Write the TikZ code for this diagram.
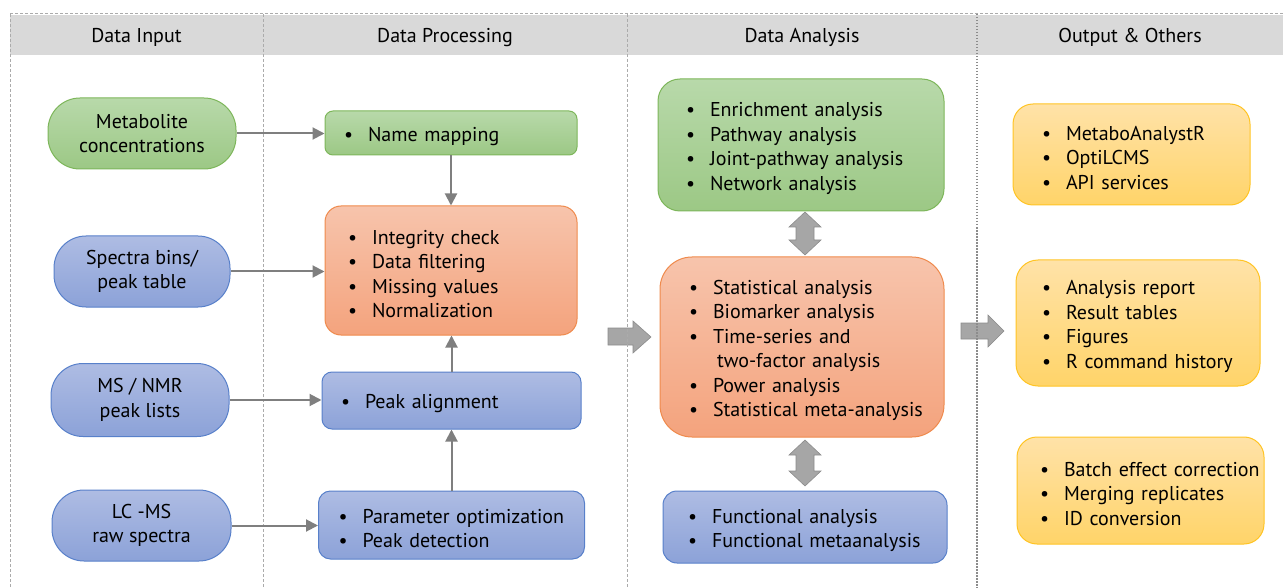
\documentclass[tikz,border=0pt]{standalone}
\usepackage{fontspec}
\setmainfont{PT Sans}
\usetikzlibrary{arrows.meta,shadings}
\definecolor{hdr}{HTML}{D9D9D9}
\definecolor{divc}{HTML}{ABABAB}
\definecolor{conn}{HTML}{7F7F7F}
\definecolor{blkf}{HTML}{A6A6A6}
\definecolor{blkd}{HTML}{8C8C8C}
\definecolor{grT}{HTML}{B8D9AA}
\definecolor{grB}{HTML}{9CC885}
\definecolor{grD}{HTML}{7DB65A}
\definecolor{orT}{HTML}{F7C4AC}
\definecolor{orB}{HTML}{F4A37D}
\definecolor{orD}{HTML}{EF8A4C}
\definecolor{blT}{HTML}{AEBCE3}
\definecolor{blB}{HTML}{8CA2D8}
\definecolor{blD}{HTML}{5880CA}
\definecolor{yeT}{HTML}{FFE2A8}
\definecolor{yeB}{HTML}{FFD469}
\definecolor{yeD}{HTML}{FFC424}
\newcommand\bitem[1]{\mbox{\makebox[24pt][l]{\textbullet}#1}}
\begin{document}
\begin{tikzpicture}[x=1pt,y=-1pt,
  txt/.style={font=\fontsize{20}{24.5}\selectfont, text=black, execute at begin node={\rule{0pt}{21pt}}},
  greenbox/.style={draw=grD, top color=grT, bottom color=grB},
  orangebox/.style={draw=orD, top color=orT, bottom color=orB},
  bluebox/.style={draw=blD, top color=blT, bottom color=blB},
  yellowbox/.style={draw=yeD, top color=yeT, bottom color=yeB},
  pill/.style={txt, rounded corners=32pt, align=center, line width=1pt, inner sep=0pt},
  listbox/.style={txt, align=left, line width=1pt, inner ysep=0pt},
  conn/.style={draw=conn, line width=2pt, -{Triangle[length=12pt,width=12pt]}},
  divline/.style={draw=divc, line width=1pt, dash pattern=on 3pt off 2pt},
  divdot/.style={draw=blkd, line width=1.2pt, dash pattern=on 1.5pt off 1.5pt},
  blockarrow/.style={fill=blkf, draw=blkd, line width=0.6pt},
  hdrtxt/.style={font=\fontsize{20}{24}\selectfont, text=black}]
\useasboundingbox (0,0) rectangle (1283,588);

% header band
\fill[hdr] (10,15) rectangle (1283,55);
\node[hdrtxt] (h1) at (136.5,37.5) {Data Input};
\node[hdrtxt] (h2) at (445,37.5) {Data Processing};
\node[hdrtxt] (h3) at (802,37.5) {Data Analysis};
\node[hdrtxt] (h4) at (1130,37.5) {Output \& Others};

% block arrows
\draw[blockarrow] (608,328) -- (633,328) -- (633,321) -- (651,337) -- (633,353) -- (633,345) -- (608,345) -- cycle;
\draw[blockarrow] (961,323) -- (988,323) -- (988,315) -- (1004,331) -- (988,347) -- (988,339) -- (961,339) -- cycle;
\draw[blockarrow] (805,212) -- (821,227) -- (814,227) -- (814,240) -- (821,240) -- (805,255) -- (789,240) -- (796,240) -- (796,227) -- (789,227) -- cycle;
\draw[blockarrow] (805,440) -- (821,455) -- (814,455) -- (814,471) -- (821,471) -- (805,486) -- (789,471) -- (796,471) -- (796,455) -- (789,455) -- cycle;

% divider lines
\draw[divline] (10,14) -- (1283,14);
\draw[divline] (10,14) -- (10,588);
\draw[divline] (263,14) -- (263,588);
\draw[divline] (627,14) -- (627,588);
\draw[divdot] (977,14) -- (977,588);

% Data input pills
\node[pill, greenbox, minimum width=188pt, minimum height=71pt] (met) at (142,133.5) {Metabolite\\concentrations};
\node[pill, bluebox, minimum width=176pt, minimum height=71pt] (sp) at (142,271.5) {Spectra bins/\\peak table};
\node[pill, bluebox, minimum width=178pt, minimum height=73pt] (ms) at (140,400) {MS / NMR\\peak lists};
\node[pill, bluebox, minimum width=179pt, minimum height=71pt] (lc) at (141.5,525.5) {LC -MS\\raw spectra};

% Data processing
\node[listbox, greenbox, rounded corners=8pt, minimum width=252pt, minimum height=44pt, text width=214pt, inner xsep=19pt] (nm) at (451,133) {\bitem{Name mapping}};
\node[listbox, orangebox, rounded corners=16pt, minimum width=252pt, minimum height=129pt, text width=206pt, inner xsep=23pt] (or) at (451,270.5) {\bitem{Integrity check}\\\bitem{Data filtering}\\\bitem{Missing values}\\\bitem{Normalization}};
\node[listbox, bluebox, rounded corners=10pt, minimum width=259pt, minimum height=57pt, text width=221pt, inner xsep=19pt] (pa) at (451.5,400.5) {\bitem{Peak alignment}};
\node[listbox, bluebox, rounded corners=12pt, minimum width=266pt, minimum height=68pt, text width=226pt, inner xsep=20pt] (pd) at (451.5,525) {\bitem{Parameter optimization}\\\bitem{Peak detection}};

% Data analysis
\node[listbox, greenbox, rounded corners=22pt, minimum width=286pt, minimum height=132pt, text width=230pt, inner xsep=28pt] (ga) at (801,145) {\bitem{Enrichment analysis}\\\bitem{Pathway analysis}\\\bitem{Joint-pathway analysis}\\\bitem{Network analysis}};
\node[listbox, orangebox, rounded corners=32pt, minimum width=284pt, minimum height=180pt, text width=226pt, inner xsep=29pt] (oa) at (802,347) {\bitem{Statistical analysis}\\\bitem{Biomarker analysis}\\\bitem{Time-series and}\\\mbox{\hspace*{28pt}two-factor analysis}\\\bitem{Power analysis}\\\bitem{Statistical meta-analysis}};
\node[listbox, bluebox, rounded corners=14pt, minimum width=284pt, minimum height=72pt, text width=234pt, inner xsep=25pt] (ba) at (805,527) {\bitem{Functional analysis}\\\bitem{Functional metaanalysis}};

% Output & others
\node[listbox, yellowbox, rounded corners=20pt, minimum width=237pt, minimum height=101pt, text width=179pt, inner xsep=29pt] (y1) at (1131.5,154.5) {\bitem{MetaboAnalystR}\\\bitem{OptiLCMS}\\\bitem{API services}};
\node[listbox, yellowbox, rounded corners=22pt, minimum width=244pt, minimum height=126pt, text width=192pt, inner xsep=26pt] (y2) at (1138,323) {\bitem{Analysis report}\\\bitem{Result tables}\\\bitem{Figures}\\\bitem{R command history}};
\node[listbox, yellowbox, rounded corners=20pt, minimum width=247pt, minimum height=107pt, text width=201pt, inner xsep=23pt] (y3) at (1140.5,490.5) {\bitem{Batch effect correction}\\\bitem{Merging replicates}\\\bitem{ID conversion}};

% connectors
\draw[conn] (met.east) -- (met.east -| nm.west);
\draw[conn] (sp.east) -- (sp.east -| or.west);
\draw[conn] (ms.east) -- (ms.east -| pa.west);
\draw[conn] (lc.east) -- (lc.east -| pd.west);
\draw[conn] (nm.south) -- (nm.south |- or.north);
\draw[conn] (pa.north) -- (pa.north |- or.south);
\draw[conn] (pd.north) -- (pd.north |- pa.south);
\end{tikzpicture}
\end{document}
